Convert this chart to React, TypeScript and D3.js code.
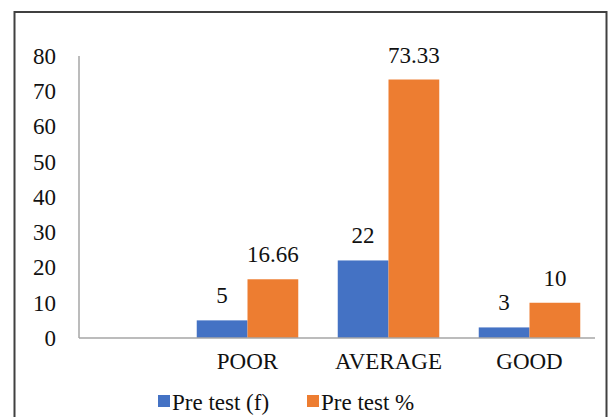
import React, { useEffect, useRef } from "react";
import * as d3 from "d3";

const categories = ["POOR", "AVERAGE", "GOOD"];
const seriesNames = ["Pre test (f)", "Pre test %"];
const pretestF = [5, 22, 3];
const pretestPct = [16.66, 73.33, 10];
const valueLabels = [["5", "22", "3"], ["16.66", "73.33", "10"]];
const yTicks = [0, 10, 20, 30, 40, 50, 60, 70, 80];
const colors = ["#4472C4", "#ED7D31"];

const W = 609;
const H = 417;
const FONT = "Liberation Serif, serif";

export default function App() {
  const ref = useRef<SVGSVGElement>(null);

  useEffect(() => {
    const svg = d3.select(ref.current);
    svg.selectAll("*").remove();
    svg.style("font-family", FONT);

    // frame round the whole figure
    svg
      .append("rect")
      .attr("x", 14.5)
      .attr("y", 12)
      .attr("width", 592)
      .attr("height", 420)
      .attr("fill", "white")
      .attr("stroke", "#404040")
      .attr("stroke-width", 2);

    const axisLeft = 79;
    const axisRight = 595;
    const y = d3.scaleLinear().domain([0, 80]).range([338, 56]);
    const x0 = d3.scaleBand().domain(categories).range([177, 600]).paddingInner(0.28).paddingOuter(0.14);
    const x1 = d3.scaleBand().domain(seriesNames).range([0, x0.bandwidth()]);

    // y axis labels
    const yAxis = svg
      .append("g")
      .attr("transform", `translate(${axisLeft},0)`)
      .call(d3.axisLeft(y).tickValues(yTicks).tickSize(0).tickPadding(23).tickFormat(d3.format("d")));
    yAxis.attr("font-family", null).attr("font-size", null);
    yAxis.select(".domain").remove();
    yAxis.selectAll("text").style("font-family", FONT).style("font-size", "23px").attr("fill", "#111");

    const series = [pretestF, pretestPct];

    series.forEach((vals, si) => {
      svg
        .append("g")
        .selectAll("rect")
        .data(vals)
        .join("rect")
        .attr("x", (_, i) => x0(categories[i])! + x1(seriesNames[si])!)
        .attr("y", (d) => y(d))
        .attr("width", x1.bandwidth())
        .attr("height", (d) => y(0) - y(d))
        .attr("fill", colors[si]);

      svg
        .append("g")
        .selectAll("text")
        .data(vals)
        .join("text")
        .attr("x", (_, i) => x0(categories[i])! + x1(seriesNames[si])! + x1.bandwidth() / 2)
        .attr("y", (d) => y(d) - 17)
        .attr("text-anchor", "middle")
        .style("font-family", FONT)
        .style("font-size", "23px")
        .attr("fill", "#111")
        .text((_, i) => valueLabels[si][i]);
    });

    // axis lines
    svg
      .append("line")
      .attr("x1", axisLeft)
      .attr("x2", axisLeft)
      .attr("y1", y(80))
      .attr("y2", y(0))
      .attr("stroke", "#A6A6A6")
      .attr("stroke-width", 1.5);
    svg
      .append("line")
      .attr("x1", axisLeft)
      .attr("x2", axisRight)
      .attr("y1", y(0))
      .attr("y2", y(0))
      .attr("stroke", "#A6A6A6")
      .attr("stroke-width", 1.5);

    // category labels
    svg
      .append("g")
      .selectAll("text")
      .data(categories)
      .join("text")
      .attr("x", (d) => x0(d)! + x0.bandwidth() / 2)
      .attr("y", 369)
      .attr("text-anchor", "middle")
      .style("font-family", FONT)
      .style("font-size", "23px")
      .attr("fill", "#111")
      .text((d) => d);

    // legend
    const legendX = [158, 307];
    const legend = svg
      .append("g")
      .selectAll("g")
      .data(seriesNames)
      .join("g")
      .attr("transform", (_, i) => `translate(${legendX[i]},0)`);
    legend
      .append("rect")
      .attr("x", 0)
      .attr("y", 395)
      .attr("width", 12)
      .attr("height", 12)
      .attr("fill", (_, i) => colors[i]);
    legend
      .append("text")
      .attr("x", 14)
      .attr("y", 410)
      .style("font-family", FONT)
      .style("font-size", "23px")
      .attr("fill", "#111")
      .text((d) => d);
  }, []);

  return (
    <svg
      ref={ref}
      width={W}
      height={H}
      style={{ position: "absolute", left: 0, top: 0, display: "block", background: "white" }}
    />
  );
}
